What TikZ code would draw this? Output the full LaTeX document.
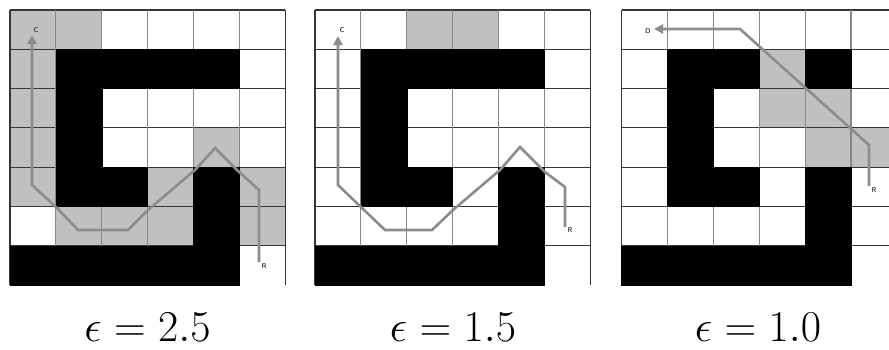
\documentclass[tikz,border=0pt]{standalone}
\usetikzlibrary{arrows.meta}
\definecolor{cellgray}{RGB}{192,192,192}
\definecolor{pathgray}{RGB}{140,140,140}
\definecolor{hline}{RGB}{55,55,55}
\definecolor{vline}{RGB}{135,135,135}
\tikzset{
  gcell/.style={fill=cellgray},
  bcell/.style={fill=black,draw=black,line width=0.5pt},
  hgrid/.style={draw=hline,line width=1.1pt},
  vgrid/.style={draw=vline,line width=1.1pt},
  route/.style={draw=pathgray,line width=2.6pt,line join=miter},
  routearrow/.style={route,-{Triangle[length=9pt,width=9pt]}},
  tag/.style={font=\sffamily\bfseries\fontsize{7}{7}\selectfont,text=black!75,inner sep=0pt},
  capt/.style={font=\LARGE,scale=2.55,inner sep=0pt,anchor=base},
}
\newcommand\mygrid[3]{%
  \begin{scope}[xshift=#1pt]
    \foreach \c/\r in {#2}
      \fill[gcell] ({\c*45.9},{10+\r*39.3}) rectangle ({(\c+1)*45.9},{10+(\r+1)*39.3});
    \foreach \r in {0,...,6}
      \draw[hgrid] (0,{10+\r*39.3}) -- ({6*45.9},{10+\r*39.3});
    \draw[hgrid] (0,{10+7*39.3}) -- ({5*45.9},{10+7*39.3});
    \foreach \c in {1,...,5}
      \draw[vgrid] ({\c*45.9},10) -- ({\c*45.9},{10+7*39.3});
    \draw[hgrid] (0,10) -- (0,{10+7*39.3});
    \draw[hgrid] ({6*45.9},10) -- ({6*45.9},{10+7*39.3});
    \foreach \c/\r in {#3}
      \filldraw[bcell] ({\c*45.9},{10+\r*39.3}) rectangle ({(\c+1)*45.9},{10+(\r+1)*39.3});
  \end{scope}%
}
\begin{document}
\begin{tikzpicture}[x=1pt,y=-1pt]
  \clip (0,0) rectangle (889,349);
  \fill[white] (0,0) rectangle (889,349);
  % grid 1 (epsilon = 2.5)
  \mygrid{10}{0/0,1/0,0/1,0/2,0/3,4/3,0/4,3/4,5/4,1/5,2/5,3/5,5/5}
    {1/1,2/1,3/1,4/1,1/2,1/3,1/4,2/4,4/4,4/5,0/6,1/6,2/6,3/6,4/6}
  % grid 2 (epsilon = 1.5)
  \mygrid{315}{2/0,3/0}
    {1/1,2/1,3/1,4/1,1/2,1/3,1/4,2/4,4/4,4/5,0/6,1/6,2/6,3/6,4/6}
  % grid 3 (epsilon = 1.0)
  \mygrid{621.5}{3/1,3/2,4/2,4/3,5/3}
    {1/1,2/1,4/1,1/2,1/3,1/4,2/4,4/4,4/5,0/6,1/6,2/6,3/6,4/6}

  % path 1
  \coordinate (a1) at (259,262);
  \coordinate (a2) at (259,190);
  \coordinate (a3) at (237,170);
  \coordinate (a4) at (215,148);
  \coordinate (a5) at (195,170);
  \coordinate (a6) at (148,210);
  \coordinate (a7) at (128,230);
  \coordinate (a8) at (78,230);
  \coordinate (a9) at (58,209);
  \coordinate (a10) at (32,185);
  \coordinate (a11) at (32,35);
  \draw[routearrow] (a1) -- (a2) -- (a3) -- (a4) -- (a5) -- (a6) -- (a7) -- (a8) -- (a9) -- (a10) -- (a11);
  \node[tag] (c1) at (36,30) {C};
  \node[tag] (r1) at (264,266) {R};

  % path 2
  \coordinate (b1) at (565,227);
  \coordinate (b2) at (565,187);
  \coordinate (b3) at (545,172);
  \coordinate (b4) at (520,147);
  \coordinate (b5) at (500,170);
  \coordinate (b6) at (453,210);
  \coordinate (b7) at (432,230);
  \coordinate (b8) at (385,230);
  \coordinate (b9) at (363,209);
  \coordinate (b10) at (338,185);
  \coordinate (b11) at (338,36);
  \draw[routearrow] (b1) -- (b2) -- (b3) -- (b4) -- (b5) -- (b6) -- (b7) -- (b8) -- (b9) -- (b10) -- (b11);
  \node[tag] (c2) at (342,30) {C};
  \node[tag] (r2) at (570,230) {R};

  % path 3
  \coordinate (d1) at (869,186);
  \coordinate (d2) at (869,145);
  \coordinate (d3) at (740,29);
  \coordinate (d4) at (654,29);
  \draw[routearrow] (d1) -- (d2) -- (d3) -- (d4);
  \node[tag] (dd) at (648,31) {D};
  \node[tag] (r3) at (874,190) {R};

  % captions
  \node[capt] (e1) at (147.5,341) {$\epsilon = 2.5$};
  \node[capt] (e2) at (453,341) {$\epsilon = 1.5$};
  \node[capt] (e3) at (758,341) {$\epsilon = 1.0$};
\end{tikzpicture}
\end{document}
